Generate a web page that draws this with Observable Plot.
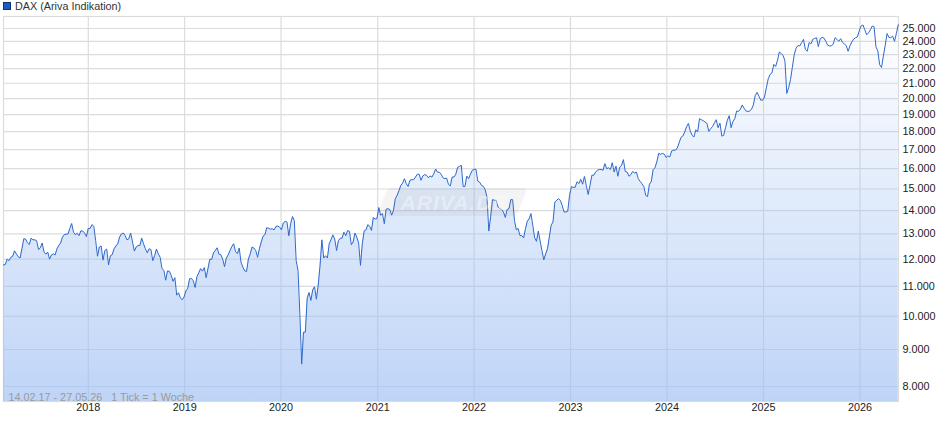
<!DOCTYPE html>
<html><head><meta charset="utf-8">
<script src="https://cdn.jsdelivr.net/npm/d3@7"></script>
<script src="https://cdn.jsdelivr.net/npm/@observablehq/plot@0.6"></script>
<style>
html,body{margin:0;padding:0;background:#fff;font-family:"Liberation Sans",Arial,sans-serif}
#wrap{position:relative;width:940px;height:435px;overflow:hidden}
#legend{height:15px;font-size:10.8px;line-height:12px;color:#333;position:relative}
#legend i{position:absolute;left:3px;top:2px;width:6px;height:6px;background:#1f5bc4;border:1px solid #16306a}
#legend span{position:absolute;left:15px;top:0}
#mark{position:absolute;left:382px;top:188px;width:140px;height:28px;background:rgba(110,110,120,.08);transform:skewX(-22deg);border-radius:5px}
#markt{position:absolute;left:392px;top:189px;width:124px;text-align:center;font:italic bold 21px/28px "Liberation Sans",Arial,sans-serif;letter-spacing:1px;color:rgba(255,255,255,.4)}
svg{display:block}
</style></head><body>
<div id="wrap">
<div id="legend"><i></i><span>DAX (Ariva Indikation)</span></div>
<div id="chart"></div>
<div id="mark"></div><div id="markt">ARIVA.DE</div>
</div>
<script>
const startDate = "2017-02-14";
const endDate = "2026-05-27";
const segmentWeeks = [0, 95.7, 193.1, 301.2, 398.6, 485];
const closes2017 = [11780,11800,12000,11940,12070,12110,12320,12200,12090,12040,12400,12800,12790,12640,12570,12830,12760,12760,12720,12370,12440,12630,12270,12190,12270,12000,12160,12200,12160,12400,12530,12630,12870,12970,12990,13000,13230,13440,13070,12970,13030,12930,13130,13120,13040,12890,13230,13230,13390,13320,12730,12110,12470,12510,11960,12330,12390,11780,12130,12170,12400,12510,12600,12870,13000,13040,12930,12760,12800,13040,12670,12310,12470,12530,12530,12830,12600,12400,12240,12400,12370,11940,12130,12390,12200,12070,11640,11580,11220,11555,11545,11400,11180,11310,10700,10780];
const closes2019 = [10600,10545,10635,10845,10935,11270,11285,11200,10965,11345,11490,11640,11550,11680,11310,11640,11990,11990,12240,12330,12440,12190,12175,12000,11715,12040,12160,12330,12490,12600,12290,12210,12430,11880,11700,11560,11535,12000,12200,12470,12430,12330,12070,12400,12670,12910,12970,13260,13240,13200,13215,13170,13315,13330,13285,13170,13460,13530,13500,12920,13430,13740,13570,11940,11580,10100,8590,9510,9510,10600,10790,10520,10880,10990,10560,11050,11760,12760,12040,12130,12040,12600,12770,12960,12790,12330,12730,12820,12830,13070,12930,13140,13110,12560,12670,13040,12870,12630];
const closes2021 = [11760,12600,13120,13170,13390,13320,13145,13700,13630,13650,14140,13800,13870,13430,14060,14090,14050,13800,14010,14540,14700,14920,15170,15280,15500,15250,15120,15420,15450,15450,15580,15720,15720,15420,15630,15700,15670,15550,15630,15580,15750,15980,15830,15820,15720,15550,15500,15530,15220,15150,15580,15580,15720,16070,16120,16170,15120,15120,15630,15500,15720,15920,15970,15970,15380,15330,15170,15130,14970,14620,13120,13730,14500,14470,14470,14170,14090,14050,13940,13700,14050,14090,14500,14500,13570,13170,13230,12930,12930,12840,13220,13540,13640,13870,13360,12840,12700,13120,12710,12330,11970,12200,12400,12870,13360,13500,14370,14470,14540];
const closes2023 = [14470,14240,13940,13940,13970,14700,15110,15080,15080,15350,15260,15470,15230,15610,15170,14740,15170,15670,15670,15830,15920,15960,15960,15920,16260,16000,16050,15960,16310,15830,16130,15620,16080,16170,16470,15860,15830,15620,15700,15860,15780,15830,15500,15370,15250,15120,14700,14640,15230,15350,15950,16050,16350,16800,16750,16800,16760,16580,16670,16610,16930,16970,16970,17090,17370,17670,17750,17980,18280,18480,18040,17790,17700,18110,17980,18760,18700,18640,18560,18480,18020,18170,18300,18500,18700,18230,18500,17750,17790,18230,18670,18940,18230,18600,18760,19220,19200];
const closes2025 = [19330,19600,19400,19230,19190,19230,19330,19600,20200,20400,20150,19900,19900,20100,20700,21300,21600,21700,22300,22150,22600,23200,23080,22950,22550,20330,20700,21250,22100,23000,23480,23680,23650,23900,24150,23380,23250,23900,23800,24150,24220,24270,23600,24200,24300,24250,24000,23700,23650,23650,23800,24280,24150,24000,24200,23920,23800,23680,23250,23650,23950,24170,24270,24330,24800,25200,25280,24900,24500,24650,24900,25200,25130,23580,23280,22280,22080,22900,23700,24600,24300,24270,24400,24000,24600,25300];
const yTickValues = [8000,9000,10000,11000,12000,13000,14000,15000,16000,17000,18000,19000,20000,21000,22000,23000,24000,25000];
const yearTicks = [2018,2019,2020,2021,2022,2023,2024,2025,2026];
const noteText = "14.02.17 - 27.05.26   1 Tick = 1 Woche";

const t0 = new Date(startDate).getTime();
const week = 7*864e5;
const segs = [closes2017, closes2019, closes2021, closes2023, closes2025];
const rows = segs.flatMap((vals, s) => vals.map((v, i) => ({
  date: new Date(t0 + week*(segmentWeeks[s] + i*(segmentWeeks[s+1]-segmentWeeks[s])/vals.length)),
  close: v
})));
const years = yearTicks.map(y => new Date(Date.UTC(y,0,1)));
const yMin = 7627, yMax = 25972;
const fmt = d => d3.format(",")(d).replace(/,/g,".");

const gradient = () => {
  const ns = "http://www.w3.org/2000/svg";
  const defs = document.createElementNS(ns,"defs");
  defs.innerHTML = `<linearGradient id="areaGrad" x1="0" y1="0" x2="0" y2="1">
    <stop offset="0" stop-color="#9bbdf3" stop-opacity="0"/>
    <stop offset="1" stop-color="#9bbdf3" stop-opacity="0.65"/></linearGradient>`;
  return defs;
};

const plot = Plot.plot({
  width: 940, height: 405,
  marginTop: 1, marginBottom: 19, marginLeft: 3, marginRight: 42,
  style: {fontFamily: '"Liberation Sans",Arial,sans-serif', fontSize: "11px", background: "#fff", color: "#222"},
  x: {type: "time", domain: [new Date(startDate), new Date(endDate)]},
  y: {type: "log", domain: [yMin, yMax]},
  marks: [
    gradient,
    Plot.ruleY(yTickValues, {stroke: "#dcdcdc", strokeWidth: 1.2}),
    Plot.ruleX(years, {stroke: "#dcdcdc", strokeWidth: 1.2}),
    Plot.frame({stroke: "#dcdcdc", strokeWidth: 1.2}),
    Plot.areaY(rows, {x: "date", y1: yMin, y2: "close", fill: "url(#areaGrad)"}),
    Plot.lineY(rows, {x: "date", y: "close", stroke: "#2f69cc", strokeWidth: 1, curve: "linear"}),
    Plot.axisY(yTickValues, {anchor: "right", tickSize: 0, tickPadding: 4, tickFormat: fmt, label: null, fontSize: 10.8, fill: "#222"}),
    Plot.axisX(years, {anchor: "bottom", tickSize: 0, tickPadding: 2, tickFormat: d => String(d.getUTCFullYear()), label: null, fontSize: 10.8, fill: "#222"}),
    Plot.text([noteText], {frameAnchor: "bottom-left", dx: 5, dy: -1, fill: "#9a9a9a", fontSize: 10.8, textAnchor: "start", lineAnchor: "bottom", text: d => d})
  ]
});
document.getElementById("chart").append(plot);
</script>
</body></html>
